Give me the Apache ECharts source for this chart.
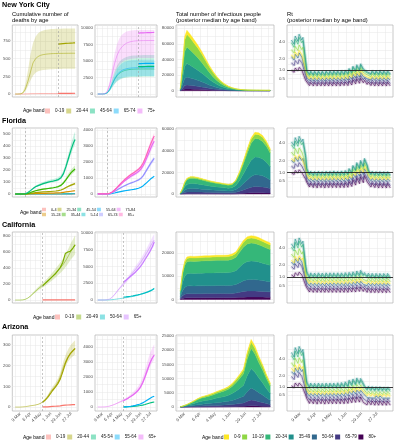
<!DOCTYPE html>
<html><head><meta charset="utf-8">
<script src="https://cdn.jsdelivr.net/npm/echarts@6/dist/echarts.min.js"></script>
<style>html,body{margin:0;padding:0;background:#fff}#c{width:394px;height:440px}</style>
</head><body><div id="c"></div>
<script>
// ---------------- DATA ----------------
const xLabelDates = ['2020-03-09','2020-04-06','2020-05-04','2020-06-01','2020-06-29','2020-07-27'];
const xMinorDates = ['2020-02-24','2020-03-23','2020-04-20','2020-05-18','2020-06-15','2020-07-13','2020-08-10'];

// cumulative deaths dates
const D1 = ['2020-02-24','2020-03-02','2020-03-09','2020-03-16','2020-03-23','2020-03-30','2020-04-06','2020-04-13','2020-04-20','2020-04-27','2020-05-04','2020-05-11','2020-05-18','2020-05-25','2020-06-01','2020-06-08','2020-06-15','2020-06-22','2020-06-29','2020-07-06','2020-07-13','2020-07-20','2020-07-27','2020-08-03','2020-08-07'];

// New York City deaths
const nycObsDates = ['2020-06-21','2020-06-28','2020-07-05','2020-07-12','2020-07-19','2020-07-26','2020-08-02','2020-08-07'];
const nycD0019Med = [0,0,0,0,1,2,3,4,4,5,5,5,5,5,5,5,5,5,5,5,5,5,5,5,5];
const nycD0019Lo  = [0,0,0,0,0,1,1,2,2,2,2,2,2,2,2,2,2,2,2,2,2,2,2,2,2];
const nycD0019Hi  = [0,0,0,1,3,5,7,8,9,9,10,10,10,10,10,10,10,10,10,10,10,10,10,10,10];
const nycD0019Obs = [9,9,10,10,10,10,11,11];
const nycD2044Med = [0,0,2,15,70,180,310,440,500,530,548,557,563,567,570,572,573,574,575,575,576,576,577,577,577];
const nycD2044Lo  = [0,0,1,8,40,110,190,260,300,322,334,340,345,348,350,352,353,354,355,356,357,357,358,358,358];
const nycD2044Hi  = [0,0,4,30,135,330,560,720,810,860,885,900,908,914,918,920,922,923,924,925,926,926,927,927,927];
const nycD2044Obs = [706,709,712,715,718,720,722,724];
const nycD4564Med = [0,0,3,30,190,660,1420,2180,2750,3130,3370,3530,3630,3700,3740,3765,3780,3790,3795,3800,3800,3800,3800,3800,3800];
const nycD4564Lo  = [0,0,2,20,130,450,970,1490,1880,2140,2300,2410,2480,2530,2560,2575,2585,2590,2595,2600,2600,2600,2600,2600,2600];
const nycD4564Hi  = [0,0,5,45,295,1020,2200,3380,4260,4850,5220,5470,5620,5730,5790,5830,5850,5870,5880,5890,5890,5890,5890,5890,5890];
const nycD4564Obs = [4140,4150,4160,4170,4180,4185,4190,4195];
const nycD6574Med = [0,0,3,30,200,700,1500,2300,2900,3300,3550,3720,3830,3900,3940,3965,3980,3990,3995,4000,4000,4000,4000,4000,4000];
const nycD6574Lo  = [0,0,2,20,135,475,1020,1560,1970,2240,2410,2530,2600,2650,2680,2695,2705,2710,2715,2720,2720,2720,2720,2720,2720];
const nycD6574Hi  = [0,0,4,40,260,910,1950,2990,3770,4290,4620,4840,4980,5070,5120,5150,5170,5185,5190,5200,5200,5200,5200,5200,5200];
const nycD6574Obs = [4600,4610,4620,4630,4635,4640,4645,4650];
const nycD75Med = [0,0,5,60,400,1400,3000,4600,5800,6600,7100,7450,7700,7850,7950,8010,8050,8070,8080,8090,8095,8100,8100,8100,8100];
const nycD75Lo  = [0,0,3,40,270,950,2000,3100,3900,4450,4800,5020,5180,5280,5350,5390,5420,5440,5450,5460,5465,5470,5470,5470,5470];
const nycD75Hi  = [0,0,8,90,560,1950,4100,6100,7500,8400,8950,9250,9450,9560,9620,9660,9680,9690,9700,9700,9700,9700,9700,9700,9700];
const nycD75Obs = [9230,9250,9265,9280,9295,9305,9315,9325];

// Florida deaths
const flD04   = [0,0,0,0,0,0,0,0,0,0,0,0,0,0,0,0,0,0,0,0,0,1,1,1,1];
const flD514  = [0,0,0,0,0,0,0,0,0,0,0,0,0,0,0,0,0,0,0,1,1,1,1,2,2];
const flD1524 = [0,0,0,0,0,1,2,3,4,5,5,6,6,7,7,8,9,10,11,14,17,20,23,26,27];
const flD2534 = [0,0,0,0,0,2,5,8,11,13,15,17,18,20,21,23,25,28,33,42,54,64,74,82,86];
const flD2534Lo = [0,0,0,0,0,2,4,7,10,11,13,15,16,18,18,20,22,25,29,37,48,56,65,72,76];
const flD2534Hi = [0,0,0,0,0,2,6,9,12,15,17,19,20,22,24,26,28,31,37,47,60,72,83,92,96];
const flD3544 = [0,0,0,0,1,5,12,20,27,32,36,40,43,46,49,52,56,62,72,92,120,150,178,198,208];
const flD3544Lo = [0,0,0,0,1,4,11,18,24,29,32,36,39,41,44,47,50,56,65,83,108,135,160,178,187];
const flD3544Hi = [0,0,0,0,1,6,14,23,31,37,41,46,49,53,56,60,64,71,83,106,138,172,205,228,240];
const flD4554 = [0,0,0,0,2,12,28,45,60,70,78,86,93,99,104,108,113,120,135,170,230,300,370,430,455];
const flD4554Lo = [0,0,0,0,2,11,25,40,54,63,70,77,84,89,94,97,102,108,122,153,207,270,333,387,410];
const flD4554Hi = [0,0,0,0,3,14,33,53,70,82,91,100,108,115,121,126,131,139,156,196,262,340,420,490,520];
const flD5564 = [0,0,0,0,1,10,30,60,95,130,160,190,215,240,265,290,320,360,420,520,650,790,930,1050,1110];
const flD6574 = [0,0,0,0,3,25,75,155,245,335,420,500,570,635,695,750,810,880,980,1150,1400,1650,1900,2120,2220];
const flD6574Lo = [0,0,0,0,3,23,69,143,225,308,386,460,524,584,639,690,745,810,902,1058,1288,1518,1748,1950,2042];
const flD6574Hi = [0,0,0,0,3,27,80,166,262,358,449,535,610,679,744,803,867,942,1049,1231,1498,1766,2033,2268,2375];
const flD7584 = [0,0,0,0,5,35,110,230,370,510,650,790,910,1020,1120,1210,1300,1400,1550,1780,2100,2450,2820,3150,3300];
const flD7584Lo = [0,0,0,0,5,32,101,212,340,469,598,727,837,938,1030,1113,1196,1288,1426,1638,1932,2254,2594,2898,3036];
const flD7584Hi = [0,0,0,0,5,37,117,244,392,541,689,837,965,1081,1187,1283,1378,1484,1643,1887,2226,2597,2989,3339,3498];
const flD85 = [0,0,0,0,5,40,120,250,400,560,720,870,1000,1120,1230,1330,1430,1540,1700,1950,2300,2700,3100,3450,3620];
const flD85Lo = [0,0,0,0,5,37,110,230,368,515,662,800,920,1030,1132,1224,1316,1417,1564,1794,2116,2484,2852,3174,3330];
const flD85Hi = [0,0,0,0,5,42,127,265,424,594,763,922,1060,1187,1304,1410,1516,1632,1802,2067,2438,2862,3286,3657,3837];

// California deaths
const caObsDates = ['2020-05-09','2020-05-16','2020-05-23','2020-05-30','2020-06-06','2020-06-13','2020-06-20','2020-06-27','2020-07-04','2020-07-11','2020-07-18','2020-07-25','2020-08-01','2020-08-07'];
const caD0019Obs = [1,1,1,1,1,2,2,2,2,3,3,3,3,3];
const caD2049Med = [0,0,0,2,10,25,50,80,110,140,165,190,215,245,275,305,340,375,410,450,500,555,615,660,690];
const caD2049Lo  = [0,0,0,1,8,21,42,68,93,119,140,161,182,207,232,257,286,315,344,377,418,463,512,548,572];
const caD2049Hi  = [0,0,0,3,12,30,58,93,128,163,192,221,250,285,320,355,396,437,478,525,584,648,718,772,808];
const caD2049Obs = [175,205,235,265,295,325,365,405,470,580,600,610,650,690];
const caD5064Med = [0,0,0,0,5,20,50,90,140,190,240,300,360,420,480,560,640,730,840,960,1100,1260,1440,1620,1740];
const caD5064Obs = [420,460,510,560,620,690,760,850,950,1060,1180,1320,1490,1700];
const caD65Med = [0,0,0,5,40,150,400,800,1250,1700,2100,2500,2900,3350,3800,4250,4700,5150,5650,6200,6800,7400,8050,8650,8950];
const caD65Lo  = [0,0,0,4,36,135,360,720,1125,1530,1890,2250,2610,3015,3420,3825,4230,4635,5085,5580,6120,6660,7245,7785,8055];
const caD65Hi  = [0,0,0,6,44,165,440,880,1375,1870,2310,2750,3190,3685,4180,4675,5170,5665,6215,6820,7480,8140,8855,9515,9845];
const caD65Obs = [2700,2950,3250,3550,3850,4150,4550,4950,5450,6050,6600,7200,7900,8650];

// Arizona deaths
const azObsDates = caObsDates;
const azD0019Obs = [1,1,1,2,3,4,5,6,8,9,10,11,12,12];
const azD2044Med = [0,0,0,1,2,4,6,8,10,13,18,27,38,55,75,90,105,125,155,195,225,248,265,276,283];
const azD2044Lo  = [0,0,0,1,2,4,5,7,9,12,16,24,34,49,67,81,94,112,139,175,202,223,238,248,254];
const azD2044Hi  = [0,0,0,1,2,5,7,9,11,15,21,31,43,63,85,103,120,143,177,222,256,283,302,315,323];
const azD2044Obs = [22,33,46,62,80,95,112,135,170,210,238,258,272,283];
const azD4554Obs = [0,5,12,20,35,50,70,95,125,165,215,265,310,330];
const azD5564Obs = [0,10,25,45,75,110,150,200,270,360,460,570,660,710];
const azD65Med = [0,0,0,5,25,60,110,170,240,310,380,450,530,620,730,860,1000,1180,1400,1750,2200,2650,3050,3350,3480];
const azD65Lo  = [0,0,0,4,22,54,99,153,216,279,342,405,477,558,657,774,900,1062,1260,1575,1980,2385,2745,3015,3130];
const azD65Hi  = [0,0,0,6,30,72,132,204,288,372,456,540,636,744,876,1032,1200,1416,1680,2100,2640,3180,3660,4020,4180];
const azD65Obs = [420,500,590,690,800,930,1080,1290,1600,2000,2450,2900,3250,3450];

// infections (stacked) dates
const D3 = ['2020-03-01','2020-03-05','2020-03-09','2020-03-13','2020-03-19','2020-03-26','2020-04-02','2020-04-09','2020-04-16','2020-04-23','2020-04-30','2020-05-07','2020-05-14','2020-05-21','2020-05-28','2020-06-04','2020-06-11','2020-06-18','2020-06-25','2020-07-02','2020-07-09','2020-07-16','2020-07-23','2020-07-30','2020-08-06','2020-08-13'];
const nycI80 = [90,1050,2100,2340,2190,1980,1770,1530,1260,990,750,560,390,270,180,120,80,50,40,30,25,20,20,20,20,20];
const nycI65 = [200,2280,4550,5070,4750,4290,3840,3320,2730,2150,1630,1200,850,590,390,260,170,120,80,65,55,50,45,40,40,40];
const nycI50 = [390,4550,9100,10140,9490,8580,7670,6630,5460,4290,3250,2410,1690,1170,780,520,340,230,170,130,110,100,90,85,80,80];
const nycI35 = [660,7700,15400,17160,16060,14520,12980,11220,9240,7260,5500,4070,2860,1980,1320,880,570,400,290,220,190,165,155,145,130,130];
const nycI20 = [810,9450,18900,21060,19710,17820,15930,13770,11340,8910,6750,5000,3510,2430,1620,1080,700,490,350,270,230,200,190,175,160,160];
const nycI10 = [640,7400,14800,16500,15400,13900,12450,10770,8870,6970,5280,3900,2750,1900,1270,850,550,380,280,210,180,160,150,140,125,125];
const nycI0  = [190,2270,4550,5070,4740,4290,3830,3310,2730,2140,1620,1190,840,580,390,260,170,110,80,65,55,50,45,40,40,40];

const flI80 = [20,100,220,290,320,320,310,290,270,250,230,220,200,190,180,190,260,420,620,840,1040,1140,1130,1080,980,840];
const flI65 = [80,500,1100,1450,1600,1600,1530,1430,1330,1230,1150,1080,1020,950,900,950,1300,2100,3100,4200,5200,5700,5650,5400,4900,4200];
const flI50 = [150,950,2090,2760,3040,3040,2910,2720,2530,2340,2190,2050,1940,1800,1710,1800,2470,3990,5890,7980,9880,10830,10740,10260,9310,7980];
const flI35 = [230,1450,3190,4200,4640,4640,4440,4150,3860,3570,3340,3130,2960,2760,2610,2760,3770,6090,8990,12180,15080,16530,16390,15660,14210,12180];
const flI20 = [240,1500,3300,4350,4800,4800,4590,4290,3990,3690,3450,3240,3060,2850,2700,2850,3900,6300,9300,12600,15600,17100,16950,16200,14700,12600];
const flI10 = [60,350,770,1020,1120,1120,1070,1000,930,860,800,760,710,670,630,670,910,1470,2170,2940,3640,3990,3960,3780,3430,2940];
const flI0  = [20,150,330,430,480,480,460,430,400,370,340,320,310,280,270,280,390,630,930,1260,1560,1710,1700,1620,1470,1260];

const caI80 = [160,480,660,732,744,740,744,748,752,752,756,760,760,760,764,780,820,920,1020,1080,1096,1088,1064,1032,1000,972];
const caI65 = [380,1140,1568,1739,1767,1758,1767,1777,1786,1786,1796,1805,1805,1805,1815,1853,1948,2185,2423,2565,2603,2584,2527,2451,2375,2309];
const caI50 = [720,2160,2970,3294,3348,3330,3348,3366,3384,3384,3402,3420,3420,3420,3438,3510,3690,4140,4590,4860,4932,4896,4788,4644,4500,4374];
const caI35 = [1160,3480,4785,5307,5394,5365,5394,5423,5452,5452,5481,5510,5510,5510,5539,5655,5945,6670,7395,7830,7946,7888,7714,7482,7250,7047];
const caI20 = [1120,3360,4620,5124,5208,5180,5208,5236,5264,5264,5292,5320,5320,5320,5348,5460,5740,6440,7140,7560,7672,7616,7448,7224,7000,6804];
const caI10 = [320,960,1320,1464,1488,1480,1488,1496,1504,1504,1512,1520,1520,1520,1528,1560,1640,1840,2040,2160,2192,2176,2128,2064,2000,1944];
const caI0  = [140,420,578,641,651,648,651,655,658,658,662,665,665,665,669,683,718,805,893,945,959,952,931,903,875,851];

const azI80 = [2,6,12,18,30,44,60,72,80,88,98,110,120,130,144,166,196,230,270,390,476,430,360,300,230,170];
const azI65 = [9,26,51,77,128,187,255,306,340,374,417,468,510,553,612,706,833,978,1148,1658,2023,1828,1530,1275,978,723];
const azI50 = [18,53,105,158,263,385,525,630,700,770,858,963,1050,1138,1260,1453,1715,2013,2363,3413,4165,3763,3150,2625,2013,1488];
const azI35 = [29,87,174,261,435,638,870,1044,1160,1276,1421,1595,1740,1885,2088,2407,2842,3335,3915,5655,6902,6235,5220,4350,3335,2465];
const azI20 = [30,90,180,270,450,660,900,1080,1200,1320,1470,1650,1800,1950,2160,2490,2940,3450,4050,5850,7140,6450,5400,4500,3450,2550];
const azI10 = [9,27,54,81,135,198,270,324,360,396,441,495,540,585,648,747,882,1035,1215,1755,2142,1935,1620,1350,1035,765];
const azI0  = [4,12,24,36,60,88,120,144,160,176,196,220,240,260,288,332,392,460,540,780,952,860,720,600,460,340];

// Rt: weekly pairs (start of week, dip 5 days later), weeks from RT_START
const RT_START = '2020-02-22';
const nycRt0  = [2.4,2.0,2.7,2.3,2.9,2.4,2.6,1.0,0.65,0.47,0.62,0.46,0.6,0.46,0.61,0.46,0.6,0.46,0.62,0.47,0.62,0.47,0.62,0.47,0.62,0.47,0.63,0.48,0.65,0.49,0.73,0.55,0.85,0.62,0.92,0.66,0.98,0.7,0.78,0.57,0.65,0.49,0.63,0.48,0.62,0.47,0.63,0.48,0.62,0.47,0.62,0.48];
const nycRt10 = [3.0,2.6,3.4,2.9,3.6,3.0,3.3,1.3,0.78,0.56,0.74,0.55,0.73,0.55,0.73,0.55,0.73,0.55,0.74,0.56,0.74,0.56,0.75,0.57,0.75,0.56,0.76,0.58,0.78,0.59,0.87,0.66,1.01,0.74,1.1,0.8,1.17,0.84,0.94,0.69,0.78,0.59,0.76,0.58,0.75,0.57,0.76,0.58,0.75,0.57,0.75,0.58];
const nycRt20 = [3.9,3.3,4.4,3.7,4.7,3.9,4.2,1.6,0.92,0.66,0.87,0.64,0.86,0.64,0.86,0.65,0.86,0.64,0.87,0.66,0.87,0.66,0.88,0.67,0.88,0.66,0.89,0.68,0.92,0.7,1.03,0.77,1.2,0.87,1.3,0.94,1.38,0.99,1.1,0.81,0.92,0.7,0.89,0.68,0.88,0.67,0.89,0.68,0.88,0.67,0.88,0.68];
const nycRt35 = [4.3,3.7,4.9,4.1,5.2,4.3,4.7,1.8,1.0,0.72,0.95,0.7,0.93,0.7,0.94,0.71,0.93,0.7,0.95,0.72,0.95,0.72,0.96,0.73,0.96,0.72,0.97,0.74,1.0,0.76,1.12,0.84,1.3,0.95,1.42,1.02,1.5,1.08,1.2,0.88,1.0,0.76,0.97,0.74,0.96,0.73,0.97,0.74,0.96,0.73,0.96,0.74];
const nycRt50 = [2.2,1.85,2.45,2.05,2.6,2.15,2.35,0.9,0.55,0.4,0.52,0.38,0.51,0.38,0.52,0.39,0.51,0.38,0.52,0.4,0.52,0.4,0.53,0.4,0.53,0.4,0.53,0.41,0.55,0.42,0.62,0.46,0.72,0.52,0.78,0.56,0.83,0.59,0.66,0.48,0.55,0.42,0.53,0.41,0.53,0.4,0.53,0.41,0.53,0.4,0.53,0.41];
const nycRt65 = [1.6,1.35,1.8,1.5,1.9,1.6,1.75,0.65,0.43,0.28,0.41,0.27,0.4,0.26,0.4,0.27,0.4,0.26,0.41,0.27,0.41,0.27,0.41,0.27,0.41,0.27,0.42,0.28,0.43,0.28,0.48,0.31,0.56,0.36,0.61,0.4,0.65,0.42,0.52,0.34,0.43,0.28,0.42,0.27,0.41,0.27,0.42,0.27,0.41,0.27,0.41,0.27];
const nycRt80 = [1.0,0.85,1.15,0.95,1.2,1.0,1.1,0.4,0.33,0.2,0.31,0.19,0.31,0.19,0.31,0.19,0.31,0.19,0.32,0.19,0.32,0.19,0.32,0.19,0.32,0.19,0.32,0.2,0.33,0.2,0.37,0.22,0.43,0.26,0.47,0.28,0.5,0.3,0.4,0.24,0.33,0.2,0.32,0.19,0.32,0.19,0.32,0.19,0.32,0.19,0.32,0.19];

const flRt0  = [2.2,1.9,2.5,2.1,2.6,2.2,2.4,1.3,0.85,0.61,0.75,0.58,0.73,0.58,0.75,0.58,0.73,0.58,0.75,0.58,0.75,0.58,0.76,0.59,0.75,0.58,0.76,0.59,0.78,0.61,0.88,0.68,1.05,0.82,1.22,0.92,1.36,1.02,1.5,1.09,0.82,0.61,0.75,0.58,0.73,0.58,0.73,0.58,0.73,0.57,0.73,0.57];
const flRt10 = [2.9,2.5,3.3,2.7,3.4,2.9,3.1,1.7,1.0,0.72,0.88,0.68,0.86,0.68,0.88,0.69,0.86,0.68,0.88,0.69,0.88,0.69,0.9,0.7,0.88,0.69,0.9,0.7,0.92,0.72,1.04,0.8,1.24,0.96,1.44,1.08,1.6,1.2,1.76,1.28,0.96,0.72,0.88,0.69,0.86,0.68,0.86,0.68,0.86,0.67,0.86,0.67];
const flRt20 = [3.8,3.3,4.3,3.6,4.5,3.8,4.1,2.3,1.2,0.84,1.02,0.79,1.0,0.79,1.02,0.8,1.0,0.79,1.02,0.8,1.02,0.8,1.04,0.81,1.02,0.8,1.04,0.81,1.07,0.84,1.21,0.93,1.44,1.12,1.67,1.26,1.86,1.4,2.05,1.49,1.12,0.84,1.02,0.8,1.0,0.79,1.0,0.79,1.0,0.78,1.0,0.78];
const flRt35 = [4.2,3.7,4.8,4.0,5.0,4.2,4.6,2.5,1.3,0.9,1.1,0.85,1.08,0.85,1.1,0.86,1.08,0.85,1.1,0.86,1.1,0.86,1.12,0.87,1.1,0.86,1.12,0.87,1.15,0.9,1.3,1.0,1.55,1.2,1.8,1.35,2.0,1.5,2.2,1.6,1.2,0.9,1.1,0.86,1.08,0.85,1.08,0.85,1.07,0.84,1.07,0.84];
const flRt50 = [2.0,1.8,2.3,1.9,2.4,2.0,2.2,1.2,0.72,0.5,0.64,0.49,0.63,0.49,0.64,0.5,0.63,0.49,0.64,0.5,0.64,0.5,0.65,0.5,0.64,0.5,0.65,0.5,0.67,0.52,0.75,0.58,0.9,0.7,1.04,0.78,1.16,0.87,1.28,0.93,0.7,0.52,0.64,0.5,0.63,0.49,0.63,0.49,0.62,0.49,0.62,0.49];
const flRt65 = [1.5,1.3,1.7,1.45,1.8,1.5,1.65,0.9,0.55,0.33,0.5,0.32,0.49,0.32,0.5,0.33,0.49,0.32,0.5,0.33,0.5,0.33,0.5,0.33,0.5,0.33,0.5,0.33,0.52,0.34,0.59,0.38,0.7,0.45,0.81,0.53,0.9,0.59,0.99,0.64,0.54,0.35,0.5,0.33,0.49,0.32,0.49,0.32,0.48,0.31,0.48,0.31];
const flRt80 = [1.0,0.88,1.15,0.97,1.2,1.0,1.1,0.6,0.45,0.26,0.41,0.24,0.4,0.23,0.41,0.24,0.4,0.23,0.41,0.24,0.41,0.24,0.41,0.24,0.41,0.24,0.41,0.24,0.43,0.25,0.48,0.28,0.57,0.33,0.67,0.39,0.74,0.43,0.81,0.47,0.44,0.26,0.41,0.24,0.4,0.23,0.4,0.23,0.4,0.23,0.4,0.23];

const caRt0  = [2.5,2.2,2.9,2.4,3.0,2.5,2.75,1.1,0.81,0.58,0.75,0.59,0.74,0.58,0.75,0.59,0.74,0.58,0.75,0.59,0.75,0.59,0.75,0.59,0.75,0.59,0.75,0.59,0.77,0.6,0.78,0.61,0.8,0.63,0.84,0.65,0.87,0.67,0.77,0.6,0.74,0.58,0.73,0.57,0.73,0.57,0.73,0.57,0.73,0.57,0.73,0.57];
const caRt10 = [3.2,2.8,3.7,3.1,3.9,3.2,3.5,1.4,1.0,0.72,0.94,0.73,0.92,0.72,0.94,0.73,0.92,0.72,0.94,0.73,0.94,0.73,0.94,0.73,0.94,0.73,0.94,0.73,0.95,0.74,0.96,0.76,0.99,0.78,1.04,0.81,1.08,0.83,0.95,0.74,0.91,0.72,0.91,0.71,0.91,0.71,0.9,0.71,0.9,0.71,0.9,0.71];
const caRt20 = [4.1,3.6,4.8,4.0,5.0,4.1,4.5,1.8,1.26,0.9,1.17,0.92,1.15,0.9,1.17,0.92,1.15,0.9,1.17,0.92,1.17,0.92,1.17,0.92,1.17,0.92,1.17,0.92,1.19,0.93,1.21,0.95,1.24,0.97,1.3,1.0,1.35,1.04,1.19,0.93,1.14,0.9,1.13,0.89,1.13,0.89,1.12,0.88,1.12,0.88,1.12,0.88];
const caRt35 = [4.6,4.0,5.3,4.4,5.5,4.6,5.0,2.0,1.4,1.0,1.3,1.02,1.28,1.0,1.3,1.02,1.28,1.0,1.3,1.02,1.3,1.02,1.3,1.02,1.3,1.02,1.3,1.02,1.32,1.03,1.34,1.05,1.38,1.08,1.45,1.12,1.5,1.15,1.32,1.03,1.27,1.0,1.26,0.99,1.26,0.99,1.25,0.98,1.25,0.98,1.25,0.98];
const caRt50 = [2.3,2.0,2.65,2.2,2.75,2.3,2.5,1.0,0.67,0.48,0.62,0.49,0.61,0.48,0.62,0.49,0.61,0.48,0.62,0.49,0.62,0.49,0.62,0.49,0.62,0.49,0.62,0.49,0.63,0.49,0.64,0.5,0.66,0.52,0.7,0.54,0.72,0.55,0.63,0.49,0.61,0.48,0.6,0.48,0.6,0.48,0.6,0.47,0.6,0.47,0.6,0.47];
const caRt65 = [1.85,1.6,2.1,1.75,2.2,1.85,2.0,0.8,0.5,0.33,0.47,0.33,0.46,0.32,0.47,0.33,0.46,0.32,0.47,0.33,0.47,0.33,0.47,0.33,0.47,0.33,0.47,0.33,0.48,0.33,0.48,0.34,0.5,0.35,0.52,0.37,0.54,0.38,0.48,0.33,0.46,0.32,0.45,0.32,0.45,0.32,0.45,0.32,0.45,0.32,0.45,0.32];
const caRt80 = [1.15,1.0,1.3,1.1,1.35,1.15,1.25,0.5,0.39,0.23,0.36,0.22,0.36,0.22,0.36,0.22,0.36,0.22,0.36,0.22,0.36,0.22,0.36,0.22,0.36,0.22,0.36,0.22,0.37,0.22,0.38,0.23,0.39,0.23,0.41,0.25,0.42,0.25,0.37,0.22,0.36,0.21,0.35,0.21,0.35,0.21,0.35,0.21,0.35,0.21,0.35,0.21];

const azRt0  = [2.8,2.4,3.2,2.6,3.3,2.75,3.0,1.2,0.77,0.55,0.72,0.55,0.7,0.54,0.72,0.55,0.7,0.54,0.72,0.55,0.72,0.55,0.72,0.55,0.73,0.56,0.74,0.57,0.77,0.59,0.85,0.65,0.91,0.69,0.96,0.73,0.94,0.7,0.61,0.47,0.58,0.45,0.57,0.44,0.56,0.44,0.56,0.44,0.55,0.43,0.55,0.43];
const azRt10 = [3.5,3.0,4.1,3.4,4.2,3.5,3.9,1.5,0.95,0.68,0.88,0.68,0.87,0.67,0.88,0.68,0.87,0.67,0.88,0.68,0.88,0.68,0.88,0.68,0.9,0.69,0.91,0.7,0.95,0.73,1.05,0.8,1.12,0.85,1.19,0.9,1.16,0.87,0.75,0.58,0.71,0.56,0.7,0.54,0.69,0.54,0.69,0.54,0.68,0.54,0.68,0.54];
const azRt20 = [4.5,3.9,5.2,4.3,5.4,4.5,5.0,2.0,1.26,0.9,1.17,0.9,1.15,0.88,1.17,0.9,1.15,0.88,1.17,0.9,1.17,0.9,1.17,0.9,1.19,0.91,1.21,0.93,1.26,0.96,1.4,1.06,1.49,1.13,1.58,1.19,1.53,1.15,0.99,0.77,0.95,0.74,0.93,0.72,0.92,0.72,0.92,0.72,0.9,0.71,0.9,0.71];
const azRt35 = [5.0,4.3,5.8,4.8,6.0,5.0,5.5,2.2,1.4,1.0,1.3,1.0,1.28,0.98,1.3,1.0,1.28,0.98,1.3,1.0,1.3,1.0,1.3,1.0,1.32,1.01,1.34,1.03,1.4,1.07,1.55,1.18,1.65,1.25,1.75,1.32,1.7,1.28,1.1,0.85,1.05,0.82,1.03,0.8,1.02,0.8,1.02,0.8,1.0,0.79,1.0,0.79];
const azRt50 = [2.4,2.1,2.8,2.3,2.9,2.4,2.65,1.05,0.63,0.45,0.59,0.45,0.58,0.44,0.59,0.45,0.58,0.44,0.59,0.45,0.59,0.45,0.59,0.45,0.59,0.45,0.6,0.46,0.63,0.48,0.7,0.53,0.74,0.56,0.79,0.59,0.77,0.58,0.5,0.38,0.47,0.37,0.46,0.36,0.46,0.36,0.46,0.36,0.45,0.36,0.45,0.36];
const azRt65 = [1.9,1.6,2.2,1.8,2.3,1.9,2.1,0.8,0.46,0.29,0.43,0.27,0.42,0.26,0.43,0.27,0.42,0.26,0.43,0.27,0.43,0.27,0.43,0.27,0.44,0.27,0.44,0.27,0.46,0.29,0.51,0.32,0.54,0.34,0.58,0.36,0.56,0.35,0.36,0.23,0.35,0.22,0.34,0.21,0.34,0.21,0.34,0.21,0.33,0.21,0.33,0.21];
const azRt80 = [1.1,0.95,1.3,1.05,1.3,1.1,1.2,0.5,0.34,0.17,0.31,0.16,0.31,0.15,0.31,0.16,0.31,0.15,0.31,0.16,0.31,0.16,0.31,0.16,0.32,0.16,0.32,0.16,0.34,0.17,0.37,0.19,0.4,0.2,0.42,0.21,0.41,0.2,0.26,0.13,0.25,0.13,0.25,0.12,0.25,0.12,0.25,0.12,0.24,0.12,0.24,0.12];

const vBands = ['0-9','10-19','20-34','35-49','50-64','65-79','80+'];

// ---------------- CHART ----------------
const FONT = "'Liberation Sans', Arial, sans-serif";
const VIR = {'0-9':'#FDE725','10-19':'#8FD744','20-34':'#35B779','35-49':'#21908C','50-64':'#31688E','65-79':'#443A83','80+':'#440154'};
const DAY = 86400000;
function TS(s){ const p = s.split('-').map(Number); return new Date(p[0], p[1]-1, p[2]).getTime(); }
const MON = ['Jan','Feb','Mar','Apr','May','Jun','Jul','Aug','Sep','Oct','Nov','Dec'];
function fmtDate(v){ const d = new Date(v); return d.getDate() + ' ' + MON[d.getMonth()]; }
function rgba(hex, a){ const n = parseInt(hex.slice(1),16); return 'rgba('+(n>>16)+','+((n>>8)&255)+','+(n&255)+','+a+')'; }
const rtDates = [];
for (let k = 0; k < 26; k++){ rtDates.push(TS(RT_START) + 7*k*DAY); rtDates.push(TS(RT_START) + (7*k+5)*DAY); }

const option = {animation:false, textStyle:{fontFamily:FONT}, grid:[], xAxis:[], yAxis:[], series:[], title:[], legend:[]};
const ROWS = [[25,97],[128,197],[232,303],[335,411]];
const COLS = [[12,78],[95,157],[176,274],[287,393]];
const XR = [['2020-02-16','2020-08-15'],['2020-02-16','2020-08-15'],['2020-02-22','2020-08-20'],['2020-02-14','2020-08-25']];
const GRIDC = '#e6e6e6';

function addGrid(r, c, ymin, ymax, yMajor, yMinor, yFmt){
  const gi = option.grid.length;
  option.grid.push({left:COLS[c][0], top:ROWS[r][0], width:COLS[c][1]-COLS[c][0], height:ROWS[r][1]-ROWS[r][0],
    show:true, borderColor:'#b3b3b3', borderWidth:0.7, backgroundColor:'#ffffff'});
  option.xAxis.push({type:'value', gridIndex:gi, min:TS(XR[c][0]), max:TS(XR[c][1]),
    axisLine:{show:false}, axisTick:{show:false, customValues:xLabelDates.concat(xMinorDates).map(TS)},
    splitLine:{show:true, lineStyle:{color:GRIDC, width:0.5}},
    axisLabel:{show:r===3, customValues:xLabelDates.map(TS), formatter:fmtDate, rotate:45, fontSize:4.4, color:'#4d4d4d', margin:2, fontFamily:FONT}});
  option.yAxis.push({type:'value', gridIndex:gi, min:ymin, max:ymax,
    axisLine:{show:false}, axisTick:{show:false, customValues:yMajor.concat(yMinor)},
    splitLine:{show:true, lineStyle:{color:GRIDC, width:0.5}},
    axisLabel:{customValues:yMajor, formatter:yFmt || (v => String(Math.round(v))), fontSize:4.4, color:'#4d4d4d', margin:2, fontFamily:FONT}});
  return gi;
}
function toTs(d){ return typeof d === 'number' ? d : TS(d); }
function pairs(dates, vals){ return vals.map((v,i) => [toTs(dates[i]), v]); }
function lineS(gi, dates, vals, color, w, name, z){
  const s = {type:'line', xAxisIndex:gi, yAxisIndex:gi, data:pairs(dates, vals), symbol:'none', silent:true,
    lineStyle:{color:color, width:w}, itemStyle:{color:color}, z:z||3};
  if (name) s.name = name;
  option.series.push(s); return s;
}
// filled polygon between lo and hi, mapped through the axes' scales
function polyS(gi, dates, lo, hi, fill, z, name, stroke){
  const xs = dates.map(toTs);
  const s = {type:'custom', xAxisIndex:gi, yAxisIndex:gi, silent:true, z:z, clip:true,
    itemStyle:{color:fill}, data:[[xs[0], lo[0]]],
    renderItem:(p, api) => {
      const pts = [];
      for (let i = 0; i < xs.length; i++) pts.push(api.coord([xs[i], hi[i]]));
      for (let i = xs.length-1; i >= 0; i--) pts.push(api.coord([xs[i], lo[i]]));
      return {type:'polygon', shape:{points:pts}, style:{fill:fill, stroke:stroke||null, lineWidth:stroke?0.4:0}};
    }};
  if (name) s.name = name;
  option.series.push(s);
}
function dash(gi, date){
  option.series.push({type:'line', xAxisIndex:gi, yAxisIndex:gi, data:[], silent:true,
    markLine:{silent:true, symbol:'none', label:{show:false}, lineStyle:{type:[2,2], color:'#a0a0a0', width:0.6}, data:[{xAxis:TS(date)}]}});
}
function deathPanel(gi, items, dashDate){
  items.forEach(it => { if (it.lo) polyS(gi, it.dates, it.lo, it.hi, rgba(it.color, 0.22), 1); });
  dash(gi, dashDate);
  items.forEach(it => { if (it.med) lineS(gi, it.dates, it.med, it.color, 0.5, null, 3); });
  items.forEach(it => { if (it.obs) lineS(gi, it.obsDates, it.obs, it.color, 1.2, it.name, 4); });
}
function infPanel(gi, arrs){
  const order = ['80+','65-79','50-64','35-49','20-34','10-19','0-9'];
  let below = arrs[0].map(() => 0);
  order.forEach((b, k) => {
    const top = below.map((v, i) => v + arrs[k][i]);
    polyS(gi, D3, below, top, VIR[b], 2, b, VIR[b]);
    below = top;
  });
}
function rtPanel(gi, arrs){
  const order = ['80+','65-79','50-64','0-9','10-19','20-34','35-49'];
  const idx = {'0-9':0,'10-19':1,'20-34':2,'35-49':3,'50-64':4,'65-79':5,'80+':6};
  order.forEach(b => {
    const v = arrs[idx[b]].map(Math.sqrt);
    option.series.push({type:'line', xAxisIndex:gi, yAxisIndex:gi, data:pairs(rtDates, v), symbol:'none', silent:true,
      lineStyle:{color:VIR[b], width:3, opacity:0.18}, z:2});
  });
  order.forEach(b => {
    const v = arrs[idx[b]].map(Math.sqrt);
    option.series.push({type:'line', name:b, xAxisIndex:gi, yAxisIndex:gi, data:pairs(rtDates, v), symbol:'none', silent:true,
      lineStyle:{color:VIR[b], width:0.6}, itemStyle:{color:VIR[b]}, z:3});
  });
  option.series.push({type:'line', xAxisIndex:gi, yAxisIndex:gi, data:[], silent:true,
    markLine:{silent:true, symbol:'none', label:{show:false}, lineStyle:{type:'solid', color:'#222', width:0.9}, data:[{yAxis:1}]}});
}
const rtMajor = [Math.SQRT1_2, 1, Math.SQRT2, 2];
const rtMinor = [0.854, 1.207, 1.707, 2.35];
const rtFmt = v => (v*v).toFixed(1);

function title(text, left, top, size, bold, lh){
  option.title.push({text:text, left:left, top:top, padding:0, itemGap:0,
    textStyle:{fontSize:size, fontWeight:bold?'bold':'normal', color:'#000', fontFamily:FONT, lineHeight:lh||size*1.2}});
}
function legend(left, top, names, opts){
  option.legend.push(Object.assign({left:left, top:top, padding:0, orient:'horizontal', selectedMode:false,
    itemWidth:5, itemHeight:5, itemGap:2, icon:'rect', formatter: n => n.replace(/\u200b/g,''),
    textStyle:{fontSize:4.6, color:'#1a1a1a', fontFamily:FONT},
    data:names.map(n => n.name ? {name:n.name, itemStyle:{color:n.c}} : n)}, opts||{}));
}

const H5 = ['#F8766D','#A3A500','#00BF7D','#00B0F6','#E76BF3'];
const H10 = {'0-4':'#F8766D','15-24':'#D89000','25-34':'#A3A500','35-44':'#39B600','45-54':'#00BF7D','5-14':'#00BFC4','55-64':'#00B0F6','65-74':'#9590FF','75-84':'#E76BF3','85+':'#FF62BC'};
const H4 = ['#F8766D','#7CAE00','#00BFC4','#C77CFF'];

// ---- New York City ----
let g = addGrid(0,0,-42,976,[0,250,500,750],[125,375,625,875]);
deathPanel(g, [
  {name:'0-19', color:H5[0], dates:D1, lo:nycD0019Lo, hi:nycD0019Hi, med:nycD0019Med, obsDates:nycObsDates, obs:nycD0019Obs},
  {name:'20-44', color:H5[1], dates:D1, lo:nycD2044Lo, hi:nycD2044Hi, med:nycD2044Med, obsDates:nycObsDates, obs:nycD2044Obs}], '2020-06-21');
g = addGrid(0,1,-450,10450,[0,2500,5000,7500,10000],[1250,3750,6250,8750]);
deathPanel(g, [
  {name:'45-64', color:H5[2], dates:D1, lo:nycD4564Lo, hi:nycD4564Hi, med:nycD4564Med, obsDates:nycObsDates, obs:nycD4564Obs},
  {name:'65-74', color:H5[3], dates:D1, lo:nycD6574Lo, hi:nycD6574Hi, med:nycD6574Med, obsDates:nycObsDates, obs:nycD6574Obs},
  {name:'75+', color:H5[4], dates:D1, lo:nycD75Lo, hi:nycD75Hi, med:nycD75Med, obsDates:nycObsDates, obs:nycD75Obs}], '2020-06-21');
g = addGrid(0,2,-8000,84000,[0,20000,40000,60000,80000],[10000,30000,50000,70000]);
infPanel(g, [nycI80,nycI65,nycI50,nycI35,nycI20,nycI10,nycI0]);
g = addGrid(0,3,0.04,2.61,rtMajor,rtMinor,rtFmt);
rtPanel(g, [nycRt0,nycRt10,nycRt20,nycRt35,nycRt50,nycRt65,nycRt80]);

// ---- Florida ----
g = addGrid(1,0,-25,550,[0,100,200,300,400,500],[50,150,250,350,450]);
deathPanel(g, [
  {name:'0-4', color:H10['0-4'], obsDates:D1, obs:flD04},
  {name:'5-14', color:H10['5-14'], obsDates:D1, obs:flD514},
  {name:'15-24', color:H10['15-24'], obsDates:D1, obs:flD1524},
  {name:'25-34', color:H10['25-34'], dates:D1, lo:flD2534Lo, hi:flD2534Hi, obsDates:D1, obs:flD2534},
  {name:'35-44', color:H10['35-44'], dates:D1, lo:flD3544Lo, hi:flD3544Hi, obsDates:D1, obs:flD3544},
  {name:'45-54', color:H10['45-54'], dates:D1, lo:flD4554Lo, hi:flD4554Hi, obsDates:D1, obs:flD4554}], '2020-03-23');
g = addGrid(1,1,-190,4125,[0,1000,2000,3000,4000],[500,1500,2500,3500]);
deathPanel(g, [
  {name:'55-64', color:H10['55-64'], obsDates:D1, obs:flD5564},
  {name:'65-74', color:H10['65-74'], dates:D1, lo:flD6574Lo, hi:flD6574Hi, obsDates:D1, obs:flD6574},
  {name:'75-84', color:H10['75-84'], dates:D1, lo:flD7584Lo, hi:flD7584Hi, obsDates:D1, obs:flD7584},
  {name:'85+', color:H10['85+'], dates:D1, lo:flD85Lo, hi:flD85Hi, obsDates:D1, obs:flD85}], '2020-03-23');
g = addGrid(1,2,-2800,61000,[0,20000,40000,60000],[10000,30000,50000]);
infPanel(g, [flI80,flI65,flI50,flI35,flI20,flI10,flI0]);
g = addGrid(1,3,0.17,2.52,rtMajor,rtMinor,rtFmt);
rtPanel(g, [flRt0,flRt10,flRt20,flRt35,flRt50,flRt65,flRt80]);

// ---- California ----
g = addGrid(2,0,-37,850,[0,200,400,600,800],[100,300,500,700]);
deathPanel(g, [
  {name:'0-19', color:H4[0], obsDates:caObsDates, obs:caD0019Obs},
  {name:'20-49', color:H4[1], dates:D1, lo:caD2049Lo, hi:caD2049Hi, med:caD2049Med, obsDates:caObsDates, obs:caD2049Obs}], '2020-05-09');
g = addGrid(2,1,-450,10150,[0,2500,5000,7500,10000],[1250,3750,6250,8750]);
deathPanel(g, [
  {name:'50-64', color:H4[2], dates:D1, med:caD5064Med, obsDates:caObsDates, obs:caD5064Obs},
  {name:'65+', color:H4[3], dates:D1, lo:caD65Lo, hi:caD65Hi, med:caD65Med, obsDates:caObsDates, obs:caD65Obs}], '2020-05-09');
g = addGrid(2,2,-1500,29000,[0,10000,20000],[5000,15000,25000]);
infPanel(g, [caI80,caI65,caI50,caI35,caI20,caI10,caI0]);
g = addGrid(2,3,0.1,2.55,rtMajor,rtMinor,rtFmt);
rtPanel(g, [caRt0,caRt10,caRt20,caRt35,caRt50,caRt65,caRt80]);

// ---- Arizona ----
g = addGrid(3,0,-19,348,[0,100,200,300],[50,150,250]);
deathPanel(g, [
  {name:'0-19', color:H5[0], obsDates:azObsDates, obs:azD0019Obs},
  {name:'20-44', color:H5[1], dates:D1, lo:azD2044Lo, hi:azD2044Hi, med:azD2044Med, obsDates:azObsDates, obs:azD2044Obs}], '2020-05-09');
g = addGrid(3,1,-270,4800,[0,1000,2000,3000,4000],[500,1500,2500,3500,4500]);
deathPanel(g, [
  {name:'45-54', color:H5[2], obsDates:azObsDates, obs:azD4554Obs},
  {name:'55-64', color:H5[3], obsDates:azObsDates, obs:azD5564Obs},
  {name:'65+\u200b', color:H5[4], dates:D1, lo:azD65Lo, hi:azD65Hi, med:azD65Med, obsDates:azObsDates, obs:azD65Obs}], '2020-05-09');
g = addGrid(3,2,-1400,25350,[0,5000,10000,15000,20000,25000],[2500,7500,12500,17500,22500]);
infPanel(g, [azI80,azI65,azI50,azI35,azI20,azI10,azI0]);
g = addGrid(3,3,0.14,2.86,rtMajor,rtMinor,rtFmt);
rtPanel(g, [azRt0,azRt10,azRt20,azRt35,azRt50,azRt65,azRt80]);

// ---- titles ----
title('New York City', 2, 1, 7.2, true);
title('Cumulative number of\ndeaths by age', 12, 10.5, 5.8, false, 6.8);
title('Total number of infectious people\n(posterior median by age band)', 176, 10.5, 5.8, false, 6.8);
title('Rt\n(posterior median by age band)', 287, 10.5, 5.8, false, 6.8);
title('Florida', 2, 117, 7.2, true);
title('California', 2, 221, 7.2, true);
title('Arizona', 2, 323, 7.2, true);
title('Age band', 23, 108, 5, false);
title('Age band', 20, 209.5, 5, false);
title('Age band', 33, 314.5, 5, false);
title('Age band', 23, 434.5, 5, false);
title('Age band', 202, 434.5, 5, false);

// ---- legends ----
legend(45, 108.5, ['0-19','20-44','45-64','65-74','75+'].map((n,i)=>({name:n, c:rgba(H5[i],0.45)})));
legend(42, 207.5, ['0-4','25-34','45-54','55-64','75-84','','15-24','35-44','5-14','65-74','85+'].map(n => n==='' ? '' : {name:n, c:rgba(H10[n],0.45)}),
  {itemWidth:4, itemHeight:3.5, itemGap:1, textStyle:{fontSize:3.8, color:'#1a1a1a', fontFamily:FONT}});
legend(55, 314.5, ['0-19','20-49','50-64','65+'].map((n,i)=>({name:n, c:rgba(H4[i],0.45)})));
legend(46, 434.5, ['0-19','20-44','45-54','55-64','65+\u200b'].map((n,i)=>({name:n, c:rgba(H5[i],0.45)})));
legend(224, 434.5, vBands.map(n => ({name:n, c:VIR[n]})), {itemGap:1.5});

const chart = echarts.init(document.getElementById('c'), null, {renderer:'canvas'});
chart.setOption(option);
</script></body></html>
